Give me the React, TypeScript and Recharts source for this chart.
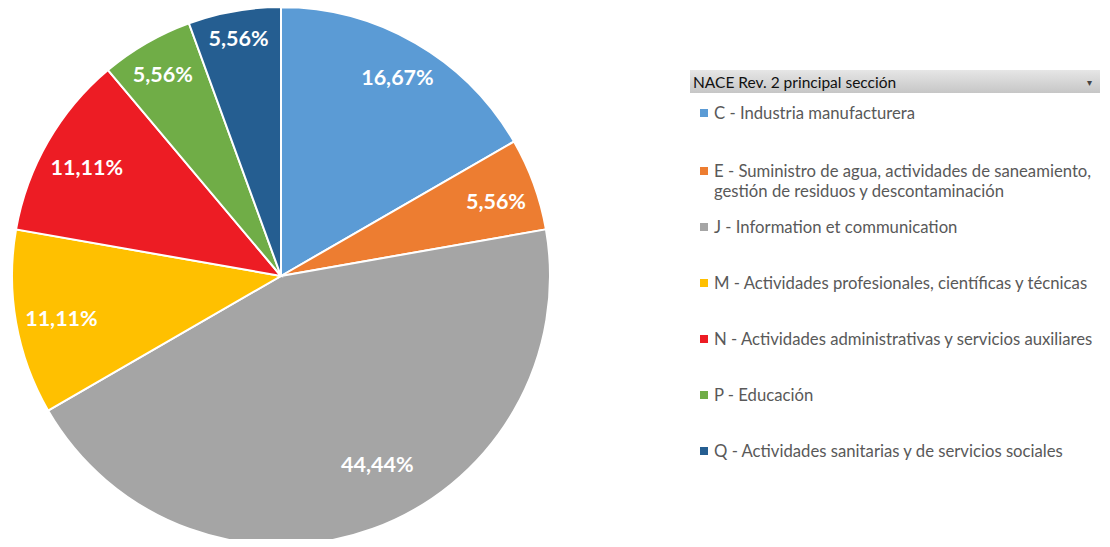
import React from "react";
import { PieChart, Pie, Cell } from "recharts";

const categories = [
  "C - Industria manufacturera",
  "E - Suministro de agua, actividades de saneamiento, gestión de residuos y descontaminación",
  "J - Information et communication",
  "M - Actividades profesionales, científicas y técnicas",
  "N - Actividades administrativas y servicios auxiliares",
  "P - Educación",
  "Q - Actividades sanitarias y de servicios sociales",
];
const shares = [16.67, 5.56, 44.44, 11.11, 11.11, 5.56, 5.56];
const colors = ["#5b9bd5", "#ed7d31", "#a5a5a5", "#ffc000", "#ed1c24", "#70ad47", "#255e91"];
const legendTitle = "NACE Rev. 2 principal sección";

const data = categories.map((name, i) => ({ name, value: shares[i] }));

const RAD = Math.PI / 180;

// "inside end" placement: push the label box out until its far corner
// sits a few px inside the rim
const renderLabel = (props: any) => {
  const { cx, cy, midAngle, outerRadius, value, index } = props;
  const text = value.toFixed(2).replace(".", ",") + "%";
  let ang = midAngle;
  // best fit on the big slice: Excel nudges it toward the right
  if (index === 2) ang = midAngle + 7.5;
  const ux = Math.cos(-ang * RAD);
  const uy = Math.sin(-ang * RAD);
  const hw = (text.length * 12) / 2;
  const hh = 9;
  const c = [Math.sign(ux) * hw, Math.sign(uy) * hh];
  const T = index === 2 ? outerRadius - 34 : outerRadius - 9;
  const uc = ux * c[0] + uy * c[1];
  const d = -uc + Math.sqrt(uc * uc - (c[0] * c[0] + c[1] * c[1]) + T * T);
  const x = cx + d * ux;
  const y = cy + d * uy + 3;
  return (
    <text
      x={x}
      y={y}
      fill="#fff"
      textAnchor="middle"
      dominantBaseline="central"
      fontSize={21.5}
      fontWeight="bold"
      fontFamily="Lato, sans-serif"
    >
      {text}
    </text>
  );
};

const LegendBox = () => (
  <div style={{ position: "absolute", left: 690, top: 70, width: 410, fontFamily: "Lato, sans-serif" }}>
    <div
      style={{
        height: 23,
        background: "linear-gradient(#e6e6e6, #c6c6c6)",
        display: "flex",
        alignItems: "center",
        justifyContent: "space-between",
        padding: "0 8px 0 3px",
        fontSize: 15.5,
        color: "#111",
        boxSizing: "border-box",
      }}
    >
      <span>{legendTitle}</span>
      <span style={{ fontSize: 10, color: "#444" }}>▾</span>
    </div>
    {categories.map((c, i) => (
      <div
        key={c}
        style={{
          position: "absolute",
          left: 10,
          top: i === 0 ? 33 : 91 + (i - 1) * 56,
          display: "flex",
          alignItems: "flex-start",
          fontSize: 16.7,
          lineHeight: "20px",
          color: "#595959",
          width: 410,
        }}
      >
        <span
          style={{
            width: 8,
            height: 8,
            background: colors[i],
            marginTop: 6,
            marginRight: 6,
            flexShrink: 0,
          }}
        />
        <span>{c}</span>
      </div>
    ))}
  </div>
);

export default function App() {
  return (
    <div style={{ margin: -8, width: 1110, height: 547, background: "#fff", position: "relative", overflow: "hidden" }}>
      <PieChart width={1110} height={547} margin={{ top: 0, right: 0, bottom: 0, left: 0 }}>
        <Pie
          data={data}
          dataKey="value"
          nameKey="name"
          cx={281}
          cy={276}
          outerRadius={269}
          startAngle={90}
          endAngle={-270}
          stroke="#fff"
          strokeWidth={2}
          label={renderLabel}
          labelLine={false}
          isAnimationActive={false}
        >
          {data.map((d, i) => (
            <Cell key={d.name} fill={colors[i]} />
          ))}
        </Pie>
      </PieChart>
      <LegendBox />
    </div>
  );
}
